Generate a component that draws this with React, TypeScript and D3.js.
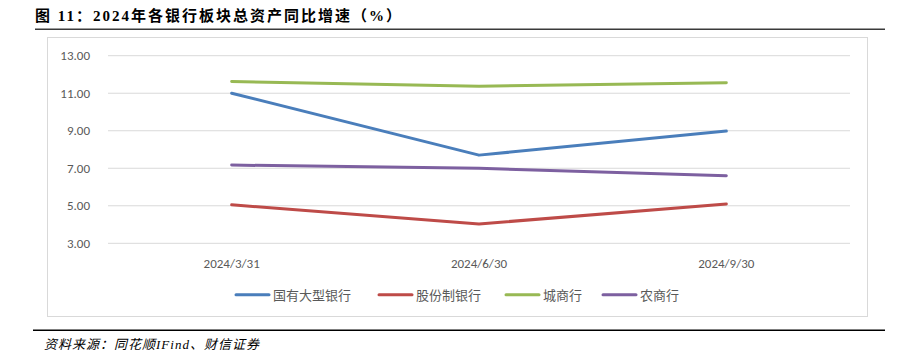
import React from "react";
import * as d3 from "d3";

const categories = ["2024/3/31", "2024/6/30", "2024/9/30"];
const seriesNames = ["国有大型银行", "股份制银行", "城商行", "农商行"];
const seriesColors = ["#4a7ebb", "#be4b48", "#98b954", "#7d60a0"];
const bigBanks = [11.0, 7.7, 8.98];
const jointStock = [5.05, 4.03, 5.1];
const cityBanks = [11.62, 11.37, 11.56];
const ruralBanks = [7.17, 7.0, 6.6];
const yTicks = [3, 5, 7, 9, 11, 13];

const allSeries = [bigBanks, jointStock, cityBanks, ruralBanks];

export default function App() {
  const W = 898, H = 356;
  const plotL = 108, plotR = 850, plotT = 55.7, plotB = 243.3;
  const x = d3.scaleBand<string>().domain(categories).range([plotL, plotR]);
  const y = d3.scaleLinear().domain([3, 13]).range([plotB, plotT]);
  const line = d3.line<number>()
    .x((_, i) => (x(categories[i]) as number) + x.bandwidth() / 2)
    .y((d) => y(d));
  const sans = "Calibri, Carlito, 'Open Sans', 'Noto Sans CJK SC', sans-serif";
  const legendX = [236, 379, 506, 603];
  return (
    <svg width={W} height={H} style={{ position: "absolute", left: 0, top: 0, background: "#fff" }}>
      <text x={35} y={21} fontFamily="'Liberation Serif', 'Noto Sans CJK SC', serif" fontWeight="bold" fontSize={15} letterSpacing={2} fill="#000">
        图 11：2024年各银行板块总资产同比增速（%）
      </text>
      <line x1={35} x2={885} y1={29.3} y2={29.3} stroke="#3a3a3a" strokeWidth={1.6} />
      <rect x={47.5} y={37.5} width={820} height={279} fill="#fff" stroke="#d9d9d9" strokeWidth={1} />
      {yTicks.map((t) => (
        <g key={t}>
          <line x1={plotL} x2={plotR} y1={y(t)} y2={y(t)} stroke="#d9d9d9" strokeWidth={1} />
          <text x={90} y={y(t) + 4.5} textAnchor="end" fontFamily={sans} fontSize={13} fill="#595959">
            {t.toFixed(2)}
          </text>
        </g>
      ))}
      {categories.map((c) => (
        <text key={c} x={(x(c) as number) + x.bandwidth() / 2} y={268} textAnchor="middle" fontFamily={sans} fontSize={13} fill="#595959">
          {c}
        </text>
      ))}
      {allSeries.map((s, i) => (
        <path key={i} d={line(s) || ""} fill="none" stroke={seriesColors[i]} strokeWidth={3} strokeLinecap="round" strokeLinejoin="round" />
      ))}
      {seriesNames.map((n, i) => (
        <g key={n}>
          <line x1={legendX[i]} x2={legendX[i] + 33} y1={294.7} y2={294.7} stroke={seriesColors[i]} strokeWidth={3} strokeLinecap="round" />
          <text x={legendX[i] + 37} y={299.5} fontFamily="'Noto Sans CJK SC', sans-serif" fontSize={13} fill="#595959">
            {n}
          </text>
        </g>
      ))}
      <line x1={33} x2={885} y1={330.3} y2={330.3} stroke="#000" strokeWidth={1.6} />
      <text x={44} y={349} fontFamily="'Liberation Serif', 'Noto Sans CJK SC', serif" fontStyle="italic" fontSize={13} letterSpacing={1} fill="#000">
        资料来源：同花顺IFind、财信证券
      </text>
    </svg>
  );
}
